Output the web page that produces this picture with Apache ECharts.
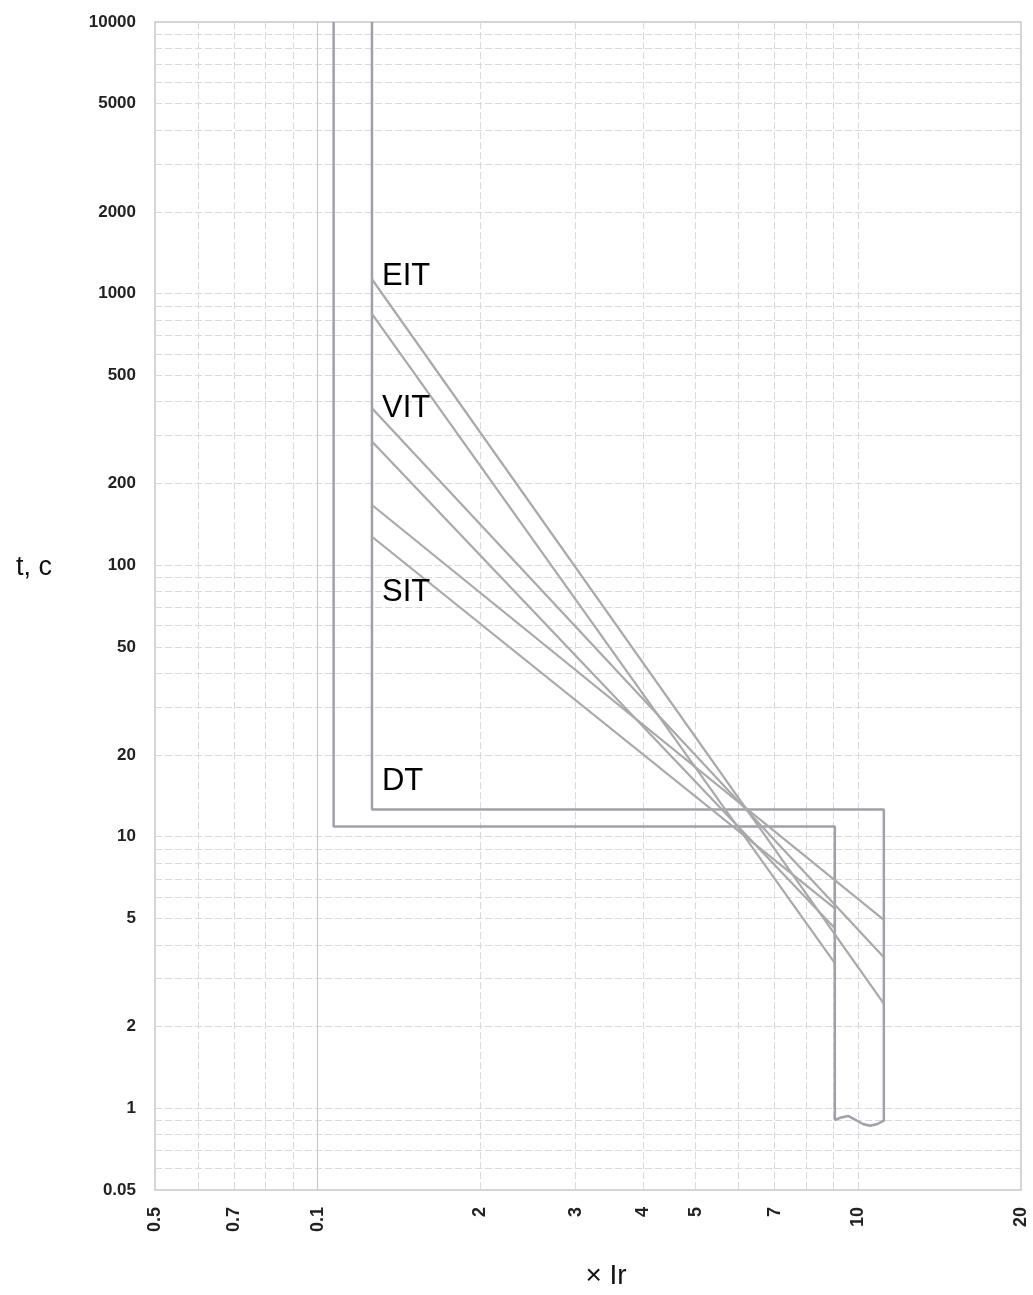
<!DOCTYPE html>
<html><head><meta charset="utf-8">
<script src="https://cdn.jsdelivr.net/npm/echarts@6/dist/echarts.min.js"></script>
<style>html,body{margin:0;padding:0;background:#fff}#c{width:1033px;height:1295px}</style>
</head><body><div id="c"></div>
<script>
// ---- axes / ticks ----
const xGridValues = [0.6, 0.7, 0.8, 0.9, 1, 2, 3, 4, 5, 6, 7, 8, 9, 10];
const xSolidValues = [1];
const xLabelValues = [0.5, 0.7, 1, 2, 3, 4, 5, 7, 10, 20];
const xLabelTexts  = ['0.5', '0.7', '0.1', '2', '3', '4', '5', '7', '10', '20'];
const yGridValues = [0.6, 0.7, 0.8, 0.9, 1, 2, 3, 4, 5, 6, 7, 8, 9,
  10, 20, 30, 40, 50, 60, 70, 80, 90, 100, 200, 300, 400, 500, 600, 700, 800, 900,
  1000, 2000, 3000, 4000, 5000, 6000, 7000, 8000, 9000];
const yLabelValues = [0.5, 1, 2, 5, 10, 20, 50, 100, 200, 500, 1000, 2000, 5000, 10000];
const yLabelTexts  = ['0.05', '1', '2', '5', '10', '20', '50', '100', '200', '500', '1000', '2000', '5000', '10000'];

// ---- DT outline (two limit steps joined by the wavy bottom) ----
const dtX = [1.07, 1.07, 9.05, 9.05, 9.3, 9.58, 9.9, 10.2, 10.52, 10.85, 11.15, 11.15, 1.26, 1.26];
const dtT = [10000, 10.9, 10.9, 0.905, 0.925, 0.937, 0.905, 0.875, 0.862, 0.875, 0.90, 12.6, 12.6, 10000];

// ---- inverse-time curves ----
const curveNames = ['EIT-1', 'EIT-2', 'VIT-1', 'VIT-2', 'SIT-1', 'SIT-2'];
const curveX0 = [1.26, 1.26, 1.26, 1.26, 1.26, 1.26];
const curveT0 = [1129, 841, 378, 285, 166.5, 127.2];
const curveX1 = [11.15, 9.05, 11.15, 9.05, 11.15, 9.05];
const curveT1 = [2.43, 3.42, 3.60, 4.60, 4.94, 5.45];

// ---- curve labels ----
const labelNames = ['EIT', 'VIT', 'SIT', 'DT'];
const labelX = [1.26, 1.26, 1.26, 1.26];
const labelT = [1160, 379, 79, 16.0];

function lookup(vals, texts, v) {
  for (let i = 0; i < vals.length; i++) {
    if (Math.abs(vals[i] - v) / vals[i] < 1e-6) return texts[i];
  }
  return '';
}

const FONT = '"Liberation Sans", Arial, Helvetica, sans-serif';
const chart = echarts.init(document.getElementById('c'), null, {renderer: 'canvas'});

const series = [];
series.push({
  name: 'DT', type: 'line', xAxisIndex: 0, yAxisIndex: 0,
  data: dtX.map((x, i) => [x, dtT[i]]),
  symbol: 'none', silent: true, z: 3,
  lineStyle: {color: '#a0a0a8', width: 2.5}
});
curveNames.forEach((n, i) => {
  series.push({
    name: n, type: 'line', xAxisIndex: 0, yAxisIndex: 0,
    data: [[curveX0[i], curveT0[i]], [curveX1[i], curveT1[i]]],
    symbol: 'none', silent: true, z: 4,
    lineStyle: {color: '#a9a9a9', width: 2.2}
  });
});
series.push({
  name: 'labels', type: 'scatter', xAxisIndex: 0, yAxisIndex: 0,
  data: labelX.map((x, i) => ({value: [x, labelT[i]], name: labelNames[i]})),
  symbolSize: 0, silent: true, z: 5,
  itemStyle: {opacity: 1},
  label: {show: true, position: 'right', distance: 10, formatter: p => p.name,
    fontFamily: FONT, fontSize: 31, color: '#000', opacity: 1}
});

chart.setOption({
  animation: false,
  backgroundColor: '#fff',
  grid: {left: 155, right: 12, top: 22, bottom: 105, show: true,
    borderColor: '#c8c8c8', borderWidth: 1.5, backgroundColor: 'transparent'},
  xAxis: [{
    type: 'log', logBase: 10, min: 0.5, max: 20,
    name: '× Ir', nameLocation: 'middle', nameGap: 72,
    nameTextStyle: {fontFamily: FONT, fontSize: 28, color: '#111', padding: [0, 0, 0, 36]},
    axisLine: {show: false},
    axisTick: {show: false, customValues: xGridValues},
    splitLine: {show: true, lineStyle: {color: '#dadada', width: 1, type: [7, 3]}},
    axisLabel: {customValues: xLabelValues, rotate: 90, margin: 17,
      fontFamily: FONT, fontSize: 18, fontWeight: 'bold', color: '#222',
      formatter: v => lookup(xLabelValues, xLabelTexts, v)}
  }, {
    type: 'log', logBase: 10, min: 0.5, max: 20, position: 'bottom',
    axisLine: {show: false}, axisLabel: {show: false},
    axisTick: {show: false, customValues: xSolidValues},
    splitLine: {show: true, lineStyle: {color: '#c8c8c8', width: 1.2, type: 'solid'}}
  }],
  yAxis: [{
    type: 'log', logBase: 10, min: 0.5, max: 10000,
    name: '{a|t, c}\n{b|}', nameLocation: 'middle', nameRotate: 0, nameGap: 103,
    nameTextStyle: {
      rich: {
        a: {fontFamily: FONT, fontSize: 27, color: '#111', height: 32, lineHeight: 32},
        b: {height: 76, lineHeight: 76, fontSize: 10}
      }
    },
    axisLine: {show: false},
    axisTick: {show: false, customValues: yGridValues},
    splitLine: {show: true, lineStyle: {color: '#dadada', width: 1, type: [7, 3]}},
    axisLabel: {customValues: yLabelValues, margin: 19,
      fontFamily: FONT, fontSize: 17, fontWeight: 'bold', color: '#222',
      formatter: v => lookup(yLabelValues, yLabelTexts, v)}
  }],
  series: series
});
</script>
</body></html>
